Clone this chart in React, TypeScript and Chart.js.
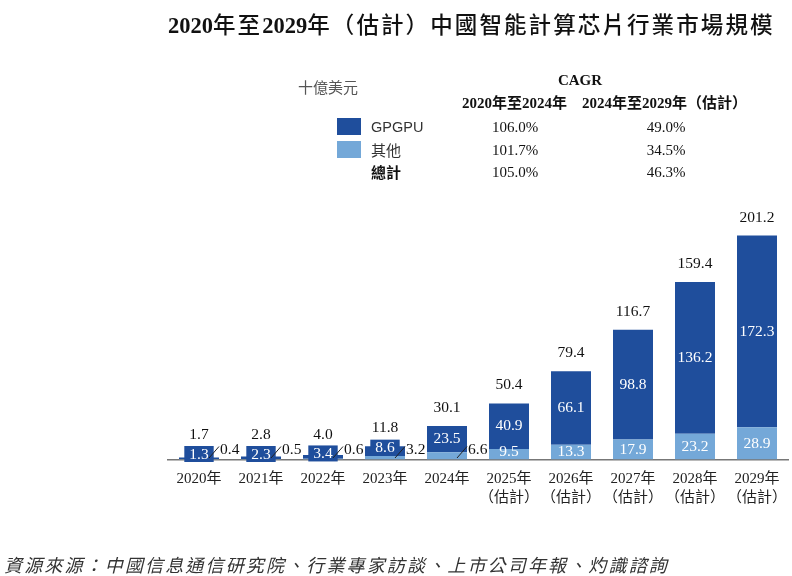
import React, { useEffect, useRef } from "react";
import { Chart, registerables } from "chart.js";

Chart.register(...registerables);

const years = ["2020年", "2021年", "2022年", "2023年", "2024年", "2025年", "2026年", "2027年", "2028年", "2029年"];
const estimatedFlags = [false, false, false, false, false, true, true, true, true, true];
const gpgpu = [1.3, 2.3, 3.4, 8.6, 23.5, 40.9, 66.1, 98.8, 136.2, 172.3];
const others = [0.4, 0.5, 0.6, 3.2, 6.6, 9.5, 13.3, 17.9, 23.2, 28.9];
const totals = [1.7, 2.8, 4.0, 11.8, 30.1, 50.4, 79.4, 116.7, 159.4, 201.2];

const cagrRows = ["GPGPU", "其他", "總計"];
const cagr2020to2024 = ["106.0%", "101.7%", "105.0%"];
const cagr2024to2029 = ["49.0%", "34.5%", "46.3%"];

const DARK = "#1f4e9c";
const LIGHT = "#74a8d8";
const SERIF = "'Liberation Serif', 'Noto Sans CJK TC', serif";
const SANS = "'Liberation Sans', 'Noto Sans CJK TC', sans-serif";

const labelPlugin = {
  id: "barLabels",
  afterDatasetsDraw(chart: any) {
    const ctx = chart.ctx;
    const metaO = chart.getDatasetMeta(0);
    const metaG = chart.getDatasetMeta(1);
    const baseline = chart.scales.y.getPixelForValue(0);
    ctx.save();
    ctx.font = `15.5px ${SERIF}`;
    ctx.textBaseline = "middle";
    for (let i = 0; i < years.length; i++) {
      const bo = metaO.data[i];
      const bg = metaG.data[i];
      const x = bg.x;
      let boxTop = Infinity;
      // GPGPU label
      const gTxt = gpgpu[i].toFixed(1);
      const gTop = bg.y;
      const gBase = bg.base;
      const gH = gBase - gTop;
      if (gH >= 20) {
        ctx.fillStyle = "#ffffff";
        ctx.textAlign = "center";
        ctx.fillText(gTxt, x, (gTop + gBase) / 2);
      } else {
        const cy = Math.min((gTop + gBase) / 2 - 3, baseline - 5);
        const w = ctx.measureText(gTxt).width + 10;
        ctx.fillStyle = DARK;
        ctx.fillRect(x - w / 2, cy - 8.5, w, 16);
        boxTop = cy - 8.5;
        ctx.fillStyle = "#ffffff";
        ctx.textAlign = "center";
        ctx.fillText(gTxt, x, cy);
      }
      // Others label
      const oTxt = others[i].toFixed(1);
      const oH = bo.base - bo.y;
      if (oH >= 10) {
        const cy = Math.min((bo.y + bo.base) / 2 + 0.5, baseline - 8);
        ctx.fillStyle = "#ffffff";
        ctx.textAlign = "center";
        ctx.fillText(oTxt, x, cy);
      } else {
        ctx.strokeStyle = "#222";
        ctx.lineWidth = 1;
        ctx.beginPath();
        ctx.moveTo(x + 10, baseline - 1.5);
        ctx.lineTo(x + 20, baseline - 13);
        ctx.stroke();
        ctx.fillStyle = "#111";
        ctx.textAlign = "left";
        ctx.fillText(oTxt, x + 21, baseline - 10);
      }
      // Total label
      const top = Math.min(bg.y, bo.y);
      let ty = top - 18;
      if (boxTop !== Infinity) ty = Math.min(ty, boxTop - 11);
      ctx.fillStyle = "#111";
      ctx.textAlign = "center";
      ctx.fillText(totals[i].toFixed(1), x, ty);
    }
    ctx.restore();
  },
};

function T(props: { x: number; y: number; align?: "left" | "center" | "right"; style?: React.CSSProperties; children: React.ReactNode }) {
  const { x, y, align = "left", style, children } = props;
  const tx = align === "left" ? "0" : align === "center" ? "-50%" : "-100%";
  return (
    <div
      style={{
        position: "absolute",
        left: x,
        top: y,
        transform: `translate(${tx}, -50%)`,
        whiteSpace: "nowrap",
        lineHeight: 1,
        ...style,
      }}
    >
      {children}
    </div>
  );
}

export default function App() {
  const canvasRef = useRef<HTMLCanvasElement | null>(null);

  useEffect(() => {
    if (!canvasRef.current) return;
    const tickLabels = years.map((y, i) => (estimatedFlags[i] ? [y, "（估計）"] : [y]));
    const chart = new Chart(canvasRef.current, {
      type: "bar",
      data: {
        labels: tickLabels,
        datasets: [
          { label: "其他", data: others, backgroundColor: LIGHT, borderWidth: 0 },
          { label: "GPGPU", data: gpgpu, backgroundColor: DARK, borderWidth: 0 },
        ],
      },
      options: {
        animation: false,
        responsive: false,
        maintainAspectRatio: false,
        layout: { padding: { left: 168, right: 4, top: 225.8, bottom: 0 } },
        datasets: { bar: { categoryPercentage: 1, barPercentage: 40 / 62 } },
        plugins: {
          legend: { display: false },
          title: { display: false },
          tooltip: { enabled: false },
        },
        scales: {
          x: {
            stacked: true,
            grid: { display: false, drawTicks: false, tickLength: 0 },
            border: { display: true, color: "#777", width: 1.5 },
            ticks: {
              autoSkip: false,
              maxRotation: 0,
              padding: 10,
              color: "#222",
              font: { family: SERIF, size: 15, lineHeight: 1.25 },
            },
            afterFit: (scale: any) => {
              scale.height = 116.5;
              scale.paddingLeft = 0;
              scale.paddingRight = 0;
            },
          },
          y: {
            stacked: true,
            display: false,
            min: 0,
            max: 210,
          },
        },
      },
      plugins: [labelPlugin],
    } as any);
    return () => chart.destroy();
  }, []);

  const titleNum: React.CSSProperties = { fontFamily: "'Liberation Serif', serif", fontWeight: 700 };
  const titleCjk: React.CSSProperties = { fontFamily: "'Noto Sans CJK TC', sans-serif", fontWeight: 500, letterSpacing: "2.1px" };

  return (
    <div style={{ position: "fixed", left: 0, top: 0, width: 792, height: 576, background: "#fff", overflow: "hidden" }}>
      <canvas ref={canvasRef} width={792} height={576} style={{ position: "absolute", left: 0, top: 0, width: 792, height: 576 }} />
      <T x={168} y={25} style={{ fontSize: 22.5, color: "#111" }}>
        <span style={titleNum}>2020</span>
        <span style={titleCjk}>年至</span>
        <span style={titleNum}>2029</span>
        <span style={titleCjk}>年（估計）中國智能計算芯片行業市場規模</span>
      </T>

      <T x={298} y={87} style={{ fontFamily: SANS, fontSize: 15, color: "#555" }}>十億美元</T>
      <T x={580} y={80} align="center" style={{ fontFamily: SERIF, fontSize: 15, fontWeight: 700, color: "#111" }}>CAGR</T>
      <T x={462} y={103} style={{ fontFamily: SERIF, fontSize: 15, fontWeight: 700, color: "#111" }}>2020年至2024年</T>
      <T x={582} y={103} style={{ fontFamily: SERIF, fontSize: 15, fontWeight: 700, color: "#111" }}>2024年至2029年（估計）</T>

      <div style={{ position: "absolute", left: 337, top: 118, width: 24, height: 17, background: DARK }} />
      <div style={{ position: "absolute", left: 337, top: 141, width: 24, height: 17, background: LIGHT }} />

      {cagrRows.map((r, i) => (
        <React.Fragment key={r}>
          <T
            x={371}
            y={127 + i * 22.5}
            style={{ fontFamily: SANS, fontSize: i === 0 ? 14.5 : 15, fontWeight: i === 2 ? 700 : 400, color: i === 2 ? "#111" : "#333" }}
          >
            {r}
          </T>
          <T x={515} y={127 + i * 22.5} align="center" style={{ fontFamily: SERIF, fontSize: 15, color: "#111" }}>
            {cagr2020to2024[i]}
          </T>
          <T x={666} y={127 + i * 22.5} align="center" style={{ fontFamily: SERIF, fontSize: 15, color: "#111" }}>
            {cagr2024to2029[i]}
          </T>
        </React.Fragment>
      ))}

      <T x={4} y={564} style={{ fontFamily: "'Noto Sans CJK TC', sans-serif", fontStyle: "italic", fontSize: 18, letterSpacing: "2.15px", color: "#333" }}>
        資源來源：中國信息通信研究院、行業專家訪談、上市公司年報、灼識諮詢
      </T>
    </div>
  );
}
